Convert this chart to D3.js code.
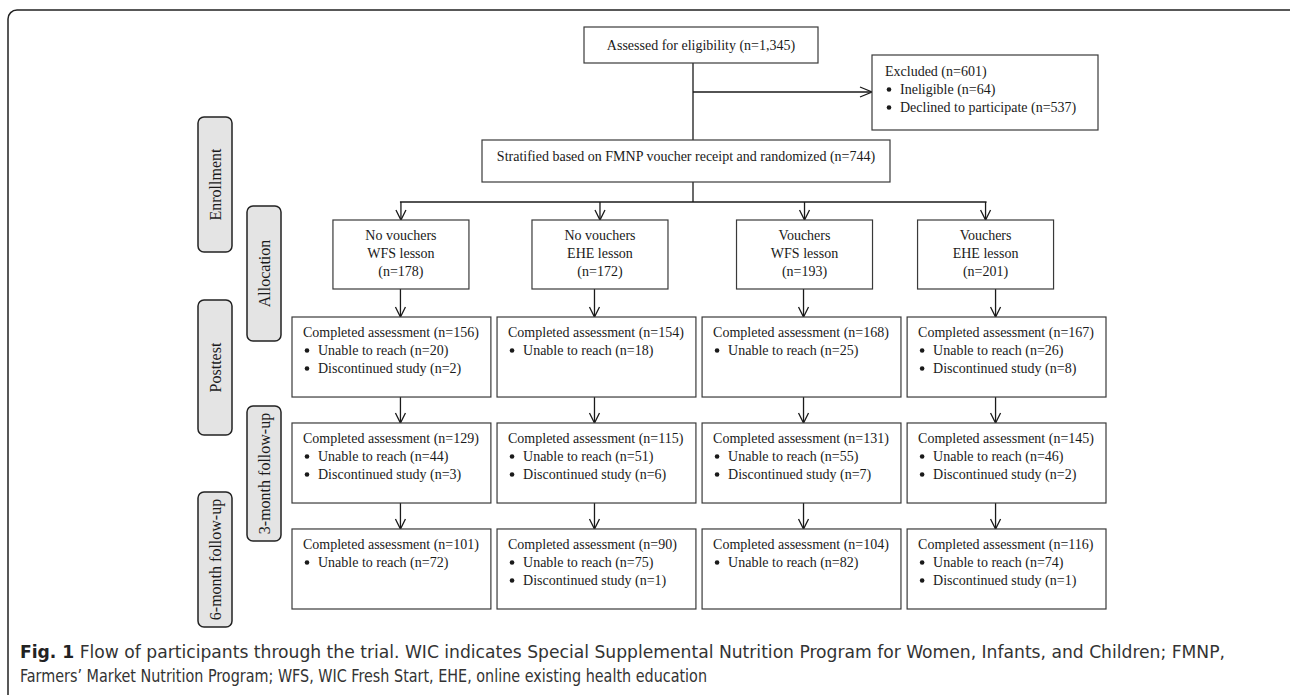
<!DOCTYPE html>
<meta charset="utf-8">
<style>
  body { margin: 0; background: #fff; }
  svg text.serif { font-family: "Liberation Serif", "Times New Roman", serif; }
  svg text.caption { font-family: "Liberation Sans Narrow", "DejaVu Sans Condensed", "Liberation Sans", sans-serif; }
</style>
<svg width="1290" height="695"></svg>
<script src="https://d3js.org/d3.v7.min.js"></script>
<script>
// ---- data ----
const stages = ["Enrollment", "Allocation", "Posttest", "3-month follow-up", "6-month follow-up"]
const assessedN = 1345
const excludedN = 601
const ineligibleN = 64
const declinedN = 537
const randomizedN = 744

const voucherGroups = ["No vouchers", "No vouchers", "Vouchers", "Vouchers"]
const lessons = ["WFS lesson", "EHE lesson", "WFS lesson", "EHE lesson"]
const allocated = [178, 172, 193, 201]

const posttestCompleted = [156, 154, 168, 167]
const posttestUnable = [20, 18, 25, 26]
const posttestDiscontinued = [2, null, null, 8]

const month3Completed = [129, 115, 131, 145]
const month3Unable = [44, 51, 55, 46]
const month3Discontinued = [3, 6, 7, 2]

const month6Completed = [101, 90, 104, 116]
const month6Unable = [72, 75, 82, 74]
const month6Discontinued = [null, 1, null, 1]

const captionLines = [
  "Flow of participants through the trial. WIC indicates Special Supplemental Nutrition Program for Women, Infants, and Children; FMNP,",
  "Farmers\u2019 Market Nutrition Program; WFS, WIC Fresh Start, EHE, online existing health education"
]

// ---- layout ----
const fmt = d3.format(",")
const svg = d3.select('svg')
const ink = '#1a1a1a'
const boxStroke = '#3a3a3a'

const col = d3.scaleBand().domain(d3.range(4)).range([292, 1106]).paddingInner(0.03)
const row = d3.scaleBand().domain(["post", "m3", "m6"]).range([317, 609]).paddingInner(0.245)
const allocShift = [9.5, 3.5, 3, -21]
const arrowShift = [9, -2, 2, -11]
const allocW = 136, allocTop = 220, allocH = 69
const stageTop = [117, 206, 300, 406, 492]
const lineH = 18

const allocX = i => col(i) + col.bandwidth() / 2 + allocShift[i]
const arrowX = i => col(i) + col.bandwidth() / 2 + arrowShift[i]

// outer frame
svg.append('rect')
  .attr('x', 8).attr('y', 10).attr('width', 1310).attr('height', 720)
  .attr('rx', 9).attr('fill', 'none').attr('stroke', '#222').attr('stroke-width', 1.5)

const lines = svg.append('g').attr('stroke', ink).attr('stroke-width', 1.3).attr('fill', 'none')

function arrowDown(x, y1, y2) {
  lines.append('line').attr('x1', x).attr('x2', x).attr('y1', y1).attr('y2', y2)
  lines.append('path').attr('d', `M${x - 5},${y2 - 10}L${x},${y2}L${x + 5},${y2 - 10}`)
}

function box(x, y, w, h) {
  svg.append('rect').attr('x', x).attr('y', y).attr('width', w).attr('height', h)
    .attr('fill', '#fff').attr('stroke', boxStroke).attr('stroke-width', 1.2)
}

function label(x, y, txt, anchor) {
  svg.append('text').attr('class', 'serif').attr('x', x).attr('y', y).attr('font-size', 14).attr('fill', ink)
    .attr('text-anchor', anchor || 'start').text(txt)
}

function bulletItem(x, y, txt) {
  svg.append('circle').attr('cx', x + 4).attr('cy', y - 4.5).attr('r', 2.3).attr('fill', ink)
  label(x + 15, y, txt)
}

// stage labels
const stageG = svg.append('g')
stages.forEach((s, i) => {
  const x = i % 2 ? 247 : 198
  stageG.append('rect').attr('x', x).attr('y', stageTop[i]).attr('width', 34).attr('height', 135)
    .attr('rx', 6).attr('fill', '#e4e4e4').attr('stroke', '#222').attr('stroke-width', 1.5)
  stageG.append('text').attr('class', 'serif')
    .attr('transform', `translate(${x + 17},${stageTop[i] + 67.5}) rotate(-90)`)
    .attr('dy', '0.35em')
    .attr('text-anchor', 'middle').attr('font-size', 16).attr('fill', ink).text(s)
})

// enrollment
const trunkX = 693
lines.append('line').attr('x1', trunkX).attr('x2', trunkX).attr('y1', 63).attr('y2', 140)
lines.append('line').attr('x1', trunkX).attr('x2', 872).attr('y1', 92).attr('y2', 92)
lines.append('path').attr('d', 'M860,87L872,92L860,97')

box(584, 27, 234, 36)
label(701, 50, `Assessed for eligibility (n=${fmt(assessedN)})`, 'middle')

box(872, 55, 226, 75)
label(885, 76, `Excluded (n=${excludedN})`)
bulletItem(885, 94, `Ineligible (n=${ineligibleN})`)
bulletItem(885, 112, `Declined to participate (n=${declinedN})`)

box(482, 140, 408, 42)
label(686, 161, `Stratified based on FMNP voucher receipt and randomized (n=${randomizedN})`, 'middle')

// allocation
lines.append('line').attr('x1', trunkX).attr('x2', trunkX).attr('y1', 182).attr('y2', 202)
lines.append('line').attr('x1', allocX(0) - 1).attr('x2', allocX(3) + 1).attr('y1', 202).attr('y2', 202)
allocated.forEach((n, i) => {
  const cx = allocX(i)
  arrowDown(cx, 202, allocTop)
  box(cx - allocW / 2, allocTop, allocW, allocH)
  label(cx, allocTop + 20, voucherGroups[i], 'middle')
  label(cx, allocTop + 38, lessons[i], 'middle')
  label(cx, allocTop + 56, `(n=${n})`, 'middle')
})

// follow-up rows
const rows = [
  { key: "post", done: posttestCompleted, unable: posttestUnable, disc: posttestDiscontinued, from: allocTop + allocH },
  { key: "m3", done: month3Completed, unable: month3Unable, disc: month3Discontinued },
  { key: "m6", done: month6Completed, unable: month6Unable, disc: month6Discontinued }
]
rows.forEach((r, ri) => {
  const top = row(r.key)
  const from = ri === 0 ? r.from : row(rows[ri - 1].key) + row.bandwidth()
  d3.range(4).forEach(i => {
    const x = col(i)
    arrowDown(arrowX(i), from, top)
    box(x, top, col.bandwidth(), row.bandwidth())
    let y = top + 20
    label(x + 11, y, `Completed assessment (n=${r.done[i]})`)
    y += lineH
    bulletItem(x + 11, y, `Unable to reach (n=${r.unable[i]})`)
    if (r.disc[i] != null) {
      y += lineH
      bulletItem(x + 11, y, `Discontinued study (n=${r.disc[i]})`)
    }
  })
})

// caption
const c1 = svg.append('text').attr('class', 'caption').attr('x', 20).attr('y', 658)
  .attr('font-size', 18).attr('fill', '#333')
  .attr('textLength', 1205).attr('lengthAdjust', 'spacingAndGlyphs')
c1.append('tspan').attr('font-weight', 'bold').attr('fill', '#222').text('Fig. 1')
c1.append('tspan').text(' ' + captionLines[0])
svg.append('text').attr('class', 'caption').attr('x', 20).attr('y', 682)
  .attr('font-size', 18).attr('fill', '#333')
  .attr('textLength', 687).attr('lengthAdjust', 'spacingAndGlyphs')
  .text(captionLines[1])
</script>
